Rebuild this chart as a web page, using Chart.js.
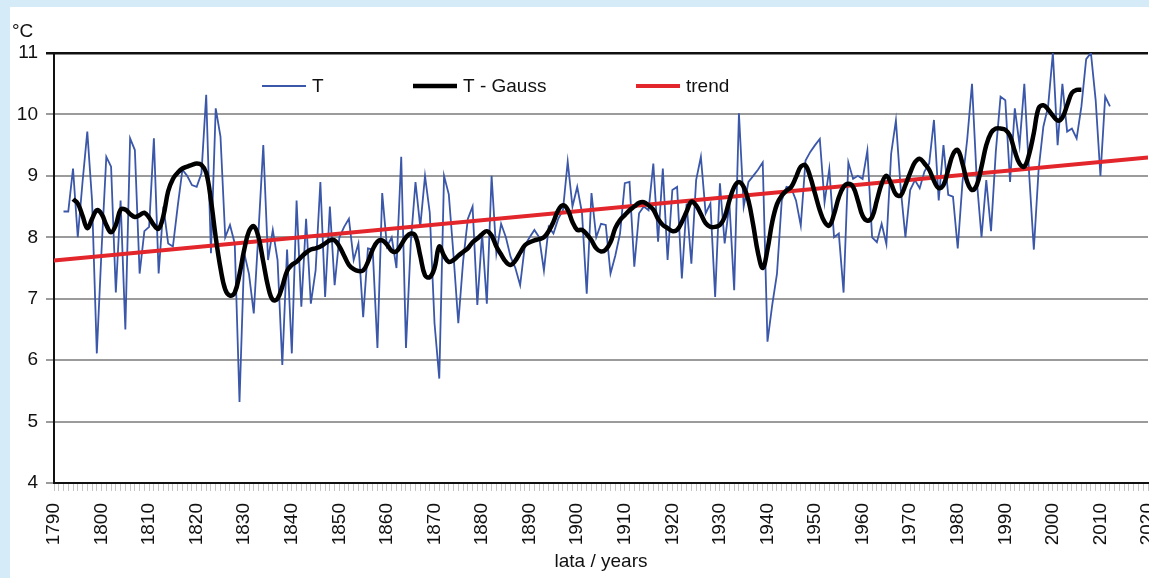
<!DOCTYPE html>
<html>
<head>
<meta charset="utf-8">
<script src="https://cdn.jsdelivr.net/npm/chart.js@4.4.1/dist/chart.umd.min.js"></script>
<style>
  html, body { margin: 0; padding: 0; background: #d5ebf7; width: 1149px; height: 578px; overflow: hidden; }
  #panel { position: absolute; left: 10px; top: 7px; right: 0; bottom: 0; background: #ffffff; }
  #c { position: absolute; left: 0; top: 0; }
</style>
</head>
<body>
<div id="panel"></div>
<canvas id="c" width="1149" height="578"></canvas>
<script>
// Annual mean temperature, first year of each series
const T_START = 1792;
const GAUSS_START = 1794;

const tValues = [
  8.42, 8.42, 9.12, 8.0, 8.9, 9.72, 8.6, 6.11, 7.8, 9.31,          // 1792-1801
  9.15, 7.1, 8.6, 6.5, 9.61, 9.42, 7.41, 8.1, 8.17, 9.61,          // 1802-1811
  7.41, 8.5, 7.9, 7.85, 8.5, 9.1, 9.0, 8.85, 8.82, 9.04,           // 1812-1821
  10.32, 7.74, 10.1, 9.64, 8.0, 8.2, 7.9, 5.32, 7.74, 7.4,         // 1822-1831
  6.76, 8.1, 9.5, 7.63, 8.12, 7.63, 5.92, 7.8, 6.11, 8.6,          // 1832-1841
  6.87, 8.3, 6.92, 7.46, 8.9, 7.03, 8.5, 7.22, 8.0, 8.17,          // 1842-1851
  8.3, 7.63, 7.9, 6.7, 7.82, 7.8, 6.2, 8.72, 7.85, 8.0,            // 1852-1861
  7.5, 9.31, 6.2, 7.9, 8.9, 8.17, 9.0, 8.4, 6.6, 5.7,              // 1862-1871
  9.0, 8.7, 7.7, 6.6, 7.6, 8.3, 8.5, 6.9, 8.06, 6.92,              // 1872-1881
  9.0, 7.74, 8.22, 8.0, 7.68, 7.5, 7.22, 7.87, 8.0, 8.12,          // 1882-1891
  8.0, 7.46, 8.17, 8.06, 8.3, 8.44, 9.23, 8.5, 8.82, 8.4,          // 1892-1901
  7.08, 8.72, 8.0, 8.22, 8.2, 7.41, 7.7, 8.06, 8.88, 8.9,          // 1902-1911
  7.52, 8.39, 8.5, 8.44, 9.2, 7.93, 9.12, 7.63, 8.77, 8.82,        // 1912-1921
  7.33, 8.55, 7.57, 8.93, 9.31, 8.39, 8.55, 7.03, 8.88, 7.9,       // 1922-1931
  8.55, 7.14, 10.02, 8.5, 8.9, 9.0, 9.1, 9.22, 6.3, 6.9,           // 1932-1941
  7.41, 8.6, 8.82, 8.8, 8.6, 8.19, 9.25, 9.39, 9.5, 9.6,           // 1942-1951
  8.57, 9.11, 8.0, 8.06, 7.1, 9.22, 8.95, 9.0, 8.95, 9.41,         // 1952-1961
  8.0, 7.92, 8.22, 7.89, 9.36, 9.9, 8.8, 8.0, 8.77, 8.93,          // 1962-1971
  8.8, 9.07, 9.2, 9.91, 8.6, 9.5, 8.69, 8.66, 7.82, 8.9,           // 1972-1981
  9.6, 10.5, 8.93, 8.0, 8.93, 8.1, 9.39, 10.29, 10.23, 8.9,        // 1982-1991
  10.1, 9.5, 10.5, 9.05, 7.8, 9.1, 9.8, 10.13, 11.0, 9.5,          // 1992-2001
  10.5, 9.72, 9.77, 9.61, 10.13, 10.9, 11.0, 10.23, 9.0, 10.29,    // 2002-2011
  10.13                                                            // 2012
];

const gaussValues = [
  8.62, 8.55, 8.35, 8.15, 8.3, 8.44, 8.38, 8.2, 8.08, 8.2,         // 1794-1803
  8.45, 8.45, 8.38, 8.33, 8.36, 8.4, 8.32, 8.2, 8.14, 8.35,        // 1804-1813
  8.75, 8.95, 9.05, 9.12, 9.15, 9.18, 9.2, 9.18, 9.05, 8.6,        // 1814-1823
  8.0, 7.5, 7.15, 7.05, 7.1, 7.4, 7.8, 8.1, 8.18, 8.0,             // 1824-1833
  7.6, 7.2, 6.98, 7.0, 7.2, 7.45, 7.55, 7.6, 7.68, 7.75,           // 1834-1843
  7.8, 7.82, 7.85, 7.9, 7.95, 7.95, 7.85, 7.7, 7.55, 7.48,         // 1844-1853
  7.45, 7.46, 7.6, 7.8, 7.93, 7.95, 7.88, 7.78, 7.77, 7.88,        // 1854-1863
  8.0, 8.06, 8.02, 7.7, 7.38, 7.35, 7.5, 7.85, 7.7, 7.6,           // 1864-1873
  7.63, 7.7, 7.76, 7.82, 7.92, 7.98, 8.05, 8.1, 8.03, 7.85,        // 1874-1883
  7.72, 7.6, 7.55, 7.62, 7.75, 7.87, 7.92, 7.95, 7.97, 8.0,        // 1884-1893
  8.1, 8.25, 8.44, 8.52, 8.45, 8.25, 8.12, 8.12, 8.05, 7.95,       // 1894-1903
  7.82, 7.77, 7.8, 7.92, 8.15, 8.28, 8.36, 8.44, 8.5, 8.56,        // 1904-1913
  8.57, 8.52, 8.45, 8.3, 8.2, 8.15, 8.1, 8.12, 8.25, 8.42,         // 1914-1923
  8.58, 8.52, 8.38, 8.23, 8.17, 8.17, 8.2, 8.33, 8.6, 8.82,        // 1924-1933
  8.9, 8.82, 8.6, 8.2, 7.75, 7.5, 7.8, 8.25, 8.54, 8.68,           // 1934-1943
  8.76, 8.82, 8.98, 9.15, 9.17, 8.98, 8.71, 8.44, 8.25, 8.19,      // 1944-1953
  8.38, 8.65, 8.82, 8.87, 8.82, 8.6, 8.35, 8.27, 8.33, 8.6,        // 1954-1963
  8.87, 9.0, 8.87, 8.7, 8.68, 8.85, 9.05, 9.22, 9.28, 9.2,         // 1964-1973
  9.1, 8.92, 8.8, 8.85, 9.1, 9.35, 9.42, 9.2, 8.9, 8.77,           // 1974-1983
  8.85, 9.15, 9.5, 9.7, 9.77, 9.77, 9.75, 9.65, 9.4, 9.2,          // 1984-1993
  9.15, 9.35, 9.7, 10.1, 10.15, 10.08, 9.98, 9.9, 9.95, 10.15,     // 1994-2003
  10.35, 10.4, 10.4                                                // 2004-2006
];

// Linear trend, end points
const trendYears = [1790, 2020];
const trendValues = [7.62, 9.30];

// Axis ranges
const xMin = 1790, xMax = 2020;
const yMin = 4, yMax = 11;

const legendItems = [
  { text: 'T', color: '#3b57a9', width: 2 },
  { text: 'T - Gauss', color: '#000000', width: 4.5 },
  { text: 'trend', color: '#e3262b', width: 4 }
];

const FAMILY = '"Liberation Sans", Arial, sans-serif';
const FS = 19;

const toPoints = (start, vals) => vals.map((v, i) => ({ x: start + i, y: v }));

const legendPlugin = {
  id: 'inlineLegend',
  afterDraw(chart) {
    const ctx = chart.ctx;
    const y = 86;
    const slots = [262, 413, 636];
    ctx.save();
    ctx.font = FS + 'px ' + FAMILY;
    ctx.textBaseline = 'middle';
    ctx.textAlign = 'left';
    legendItems.forEach((it, i) => {
      const x0 = slots[i];
      ctx.strokeStyle = it.color;
      ctx.lineWidth = it.width;
      ctx.beginPath();
      ctx.moveTo(x0, y);
      ctx.lineTo(x0 + 44, y);
      ctx.stroke();
      ctx.fillStyle = '#111';
      ctx.fillText(it.text, x0 + 50, y + 1);
    });
    // unit label above the value axis
    ctx.textBaseline = 'alphabetic';
    ctx.fillText('°C', 12, 37);
    ctx.restore();
  }
};

new Chart(document.getElementById('c'), {
  type: 'line',
  data: {
    datasets: [
      {
        label: 'T - Gauss',
        data: toPoints(GAUSS_START, gaussValues),
        borderColor: '#000000',
        borderWidth: 4.5,
        pointRadius: 0,
        tension: 0.4,
        fill: false
      },
      {
        label: 'trend',
        data: trendYears.map((yr, i) => ({ x: yr, y: trendValues[i] })),
        borderColor: '#e3262b',
        borderWidth: 4,
        pointRadius: 0,
        fill: false
      },
      {
        label: 'T',
        data: toPoints(T_START, tValues),
        borderColor: '#3b57a9',
        borderWidth: 1.8,
        pointRadius: 0,
        tension: 0,
        fill: false
      }
    ]
  },
  options: {
    responsive: false,
    animation: false,
    devicePixelRatio: 1,
    layout: { padding: { left: 10, top: 53, right: 1, bottom: 0 } },
    plugins: {
      legend: { display: false },
      tooltip: { enabled: false }
    },
    scales: {
      x: {
        type: 'linear',
        min: xMin,
        max: xMax,
        afterFit: (s) => { s.height = 95; s.paddingLeft = 0; s.paddingRight = 0; },
        ticks: {
          stepSize: 1,
          autoSkip: false,
          minRotation: 90,
          maxRotation: 90,
          padding: 12,
          color: '#111',
          font: { family: FAMILY, size: FS },
          callback: (v) => (v % 10 === 0 ? String(v) : '')
        },
        grid: {
          drawOnChartArea: false,
          drawTicks: true,
          tickLength: 8,
          color: '#c4c4c4',
          lineWidth: 1
        },
        border: { display: true, color: '#111', width: 2 },
        title: {
          display: true,
          text: 'lata / years',
          color: '#111',
          font: { family: FAMILY, size: FS },
          padding: { top: 0, bottom: 5 }
        }
      },
      y: {
        min: yMin,
        max: yMax,
        afterFit: (s) => { s.width = 44; s.paddingTop = 0; s.paddingBottom = 0; },
        ticks: {
          stepSize: 1,
          padding: 8,
          color: '#111',
          font: { family: FAMILY, size: FS }
        },
        grid: {
          drawTicks: true,
          tickLength: 8,
          color: (c) => (c.tick && c.tick.value === yMax ? '#111' : '#9b9b9b'),
          lineWidth: (c) => (c.tick && c.tick.value === yMax ? 2.5 : 2)
        },
        border: { display: true, color: '#111', width: 2 }
      }
    }
  },
  plugins: [legendPlugin]
});
</script>
</body>
</html>
